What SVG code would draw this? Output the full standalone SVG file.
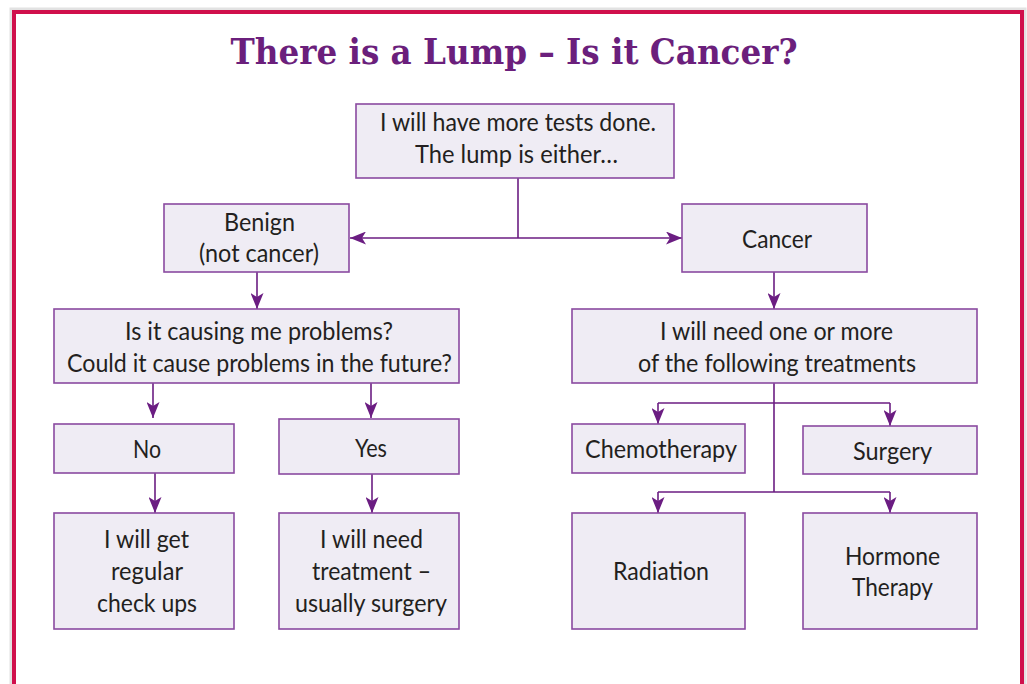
<svg xmlns="http://www.w3.org/2000/svg" width="1027" height="684" viewBox="0 0 1027 684">
<style>
.box{fill:#efecf4;stroke:#8a4aa0;stroke-width:1.6}
.t{font-family:Lato,"Noto Sans","Liberation Sans",sans-serif;font-size:25px;fill:#231f20;text-anchor:middle}
.c{fill:none;stroke:#6b1d82;stroke-width:1.6}
.title{font-family:"DejaVu Serif","Liberation Serif",serif;font-weight:bold;font-size:36px;fill:#6b1f7c;text-anchor:middle}
</style>
<defs>
<marker id="ah" markerUnits="userSpaceOnUse" markerWidth="16" markerHeight="13" viewBox="0 0 16 13" refX="16" refY="6.5" orient="auto">
<path d="M0,0 L16,6.5 L0,13 L4,6.5 z" fill="#6b1d82"/>
</marker>
</defs>
<rect x="0" y="0" width="1027" height="684" fill="#ffffff"/>
<rect x="14" y="12" width="1008" height="700" fill="none" stroke="#e2e2e2" stroke-width="9"/>
<rect x="14" y="12" width="1008" height="700" fill="#ffffff" stroke="#d0104c" stroke-width="4"/>
<text class="title" x="514" y="64" textLength="567" lengthAdjust="spacingAndGlyphs">There is a Lump – Is it Cancer?</text>

<g id="connectors">
<path class="c" d="M518,178 V238"/>
<path class="c" d="M518,238 H350" marker-end="url(#ah)"/>
<path class="c" d="M518,238 H682" marker-end="url(#ah)"/>
<path class="c" d="M257,272 V309" marker-end="url(#ah)"/>
<path class="c" d="M774,272 V309" marker-end="url(#ah)"/>
<path class="c" d="M153,383 V418" marker-end="url(#ah)"/>
<path class="c" d="M371,383 V418" marker-end="url(#ah)"/>
<path class="c" d="M155,473 V513" marker-end="url(#ah)"/>
<path class="c" d="M372,474 V513" marker-end="url(#ah)"/>
<path class="c" d="M774,383 V492"/>
<path class="c" d="M658,403 H890"/>
<path class="c" d="M658,403 V424" marker-end="url(#ah)"/>
<path class="c" d="M890,403 V426" marker-end="url(#ah)"/>
<path class="c" d="M658,492 H890"/>
<path class="c" d="M658,492 V513" marker-end="url(#ah)"/>
<path class="c" d="M890,492 V513" marker-end="url(#ah)"/>
</g>

<g id="top">
<rect class="box" x="356" y="104" width="318" height="74"/>
<text class="t" x="518" y="131" textLength="276" lengthAdjust="spacingAndGlyphs">I will have more tests done.</text>
<text class="t" x="516.5" y="163" textLength="203" lengthAdjust="spacingAndGlyphs">The lump is either…</text>
</g>
<g id="benign">
<rect class="box" x="164" y="204" width="185" height="68"/>
<text class="t" x="259.5" y="231" textLength="71" lengthAdjust="spacingAndGlyphs">Benign</text>
<text class="t" x="259" y="262" textLength="120" lengthAdjust="spacingAndGlyphs">(not cancer)</text>
</g>
<g id="cancer">
<rect class="box" x="682" y="204" width="185" height="68"/>
<text class="t" x="777" y="248" textLength="70" lengthAdjust="spacingAndGlyphs">Cancer</text>
</g>
<g id="question">
<rect class="box" x="54" y="309" width="405" height="74"/>
<text class="t" x="259" y="340" textLength="268" lengthAdjust="spacingAndGlyphs">Is it causing me problems?</text>
<text class="t" x="259.5" y="372" textLength="385" lengthAdjust="spacingAndGlyphs">Could it cause problems in the future?</text>
</g>
<g id="treatments">
<rect class="box" x="572" y="309" width="405" height="74"/>
<text class="t" x="776.5" y="340" textLength="233" lengthAdjust="spacingAndGlyphs">I will need one or more</text>
<text class="t" x="777" y="372" textLength="278" lengthAdjust="spacingAndGlyphs">of the following treatments</text>
</g>
<g id="no">
<rect class="box" x="54" y="424" width="180" height="49"/>
<text class="t" x="147" y="458" textLength="28" lengthAdjust="spacingAndGlyphs">No</text>
</g>
<g id="yes">
<rect class="box" x="279" y="419" width="180" height="55"/>
<text class="t" x="371" y="457" textLength="32" lengthAdjust="spacingAndGlyphs">Yes</text>
</g>
<g id="checkups">
<rect class="box" x="54" y="513" width="180" height="116"/>
<text class="t" x="146.5" y="548" textLength="85" lengthAdjust="spacingAndGlyphs">I will get</text>
<text class="t" x="147" y="580" textLength="72" lengthAdjust="spacingAndGlyphs">regular</text>
<text class="t" x="147" y="612" textLength="100" lengthAdjust="spacingAndGlyphs">check ups</text>
</g>
<g id="needtreat">
<rect class="box" x="279" y="513" width="180" height="116"/>
<text class="t" x="371.5" y="548" textLength="103" lengthAdjust="spacingAndGlyphs">I will need</text>
<text class="t" x="371.5" y="580" textLength="119" lengthAdjust="spacingAndGlyphs">treatment –</text>
<text class="t" x="371" y="612" textLength="152" lengthAdjust="spacingAndGlyphs">usually surgery</text>
</g>
<g id="chemo">
<rect class="box" x="572" y="424" width="173" height="49"/>
<text class="t" x="661" y="458" textLength="152" lengthAdjust="spacingAndGlyphs">Chemotherapy</text>
</g>
<g id="surgery">
<rect class="box" x="803" y="426" width="174" height="48"/>
<text class="t" x="892.5" y="460" textLength="79" lengthAdjust="spacingAndGlyphs">Surgery</text>
</g>
<g id="radiation">
<rect class="box" x="572" y="513" width="173" height="116"/>
<text class="t" x="661" y="580" textLength="96" lengthAdjust="spacingAndGlyphs">Radiation</text>
</g>
<g id="hormone">
<rect class="box" x="803" y="513" width="174" height="116"/>
<text class="t" x="892.5" y="565" textLength="95" lengthAdjust="spacingAndGlyphs">Hormone</text>
<text class="t" x="892.5" y="596" textLength="81" lengthAdjust="spacingAndGlyphs">Therapy</text>
</g>
</svg>
